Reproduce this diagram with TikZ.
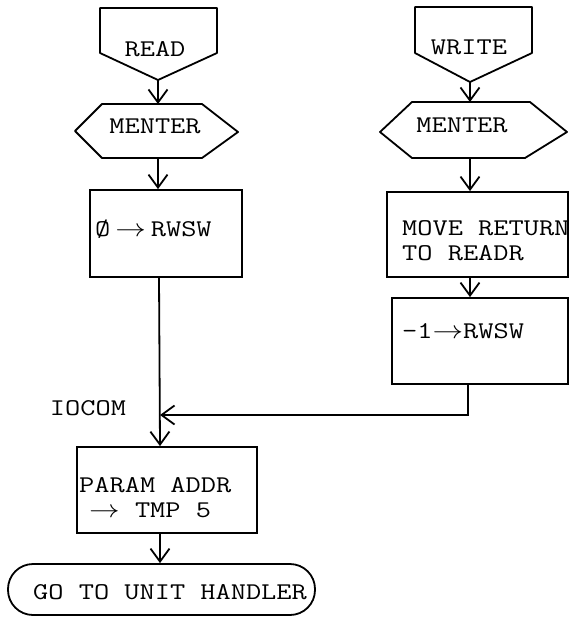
\documentclass[tikz,border=0pt]{standalone}
\usepackage{graphicx}
\usetikzlibrary{arrows.meta}
\newcommand\tw[1]{\scalebox{1.23}[1]{#1}}
\tikzset{
  shp/.style={draw, line width=1.8pt, line join=round},
  box/.style={draw, line width=1.8pt, rectangle, inner sep=0pt},
  txt/.style={inner sep=0pt, font=\ttfamily\fontsize{24}{25}\selectfont},
  flow/.style={line width=1.8pt, -{Straight Barb[length=13pt,width=19pt,line width=1.8pt]}},
}
\begin{document}
\begin{tikzpicture}[x=1pt,y=-1pt]
\useasboundingbox[fill=white] (0,0) rectangle (571,623);

% READ connector (pentagon)
\draw[shp] (100,8) -- (217,8) -- (217,53) -- (158,80) -- (100,53) -- cycle;
\coordinate (readtip) at (158,80);
\node[txt, anchor=base] (tread) at (155,57) {\tw{READ}};

% WRITE connector
\draw[shp] (415,7) -- (532,7) -- (532,53) -- (470,82) -- (415,53) -- cycle;
\coordinate (writetip) at (470,82);
\node[txt, anchor=base] (twrite) at (469,55) {\tw{WRITE}};

% MENTER left
\draw[shp] (75,131) -- (102,104) -- (202,104) -- (238,132) -- (202,158) -- (102,158) -- cycle;
\coordinate (m1top) at (158,104);
\coordinate (m1bot) at (158,158);
\node[txt, anchor=base] (tm1) at (155,133) {\tw{MENTER}};

% MENTER right
\draw[shp] (380,132) -- (412,102) -- (530,102) -- (567,132) -- (525,158) -- (412,158) -- cycle;
\coordinate (m2top) at (470,102);
\coordinate (m2bot) at (470,158);
\node[txt, anchor=base] (tm2) at (462,132) {\tw{MENTER}};

% boxes
\node[box, minimum width=152pt, minimum height=87pt] (b1) at (166,233.5) {};
\node[txt, anchor=base west] (tb1) at (95,236) {\tw{Ø\,$\rightarrow$\,RWSW}};

\node[box, minimum width=181pt, minimum height=85pt] (b2) at (477.5,234.5) {};
\node[txt, anchor=base west] (tb2a) at (402,235) {\tw{MOVE RETURN}};
\node[txt, anchor=base west] (tb2b) at (402,260) {\tw{TO READR}};

\node[box, minimum width=176pt, minimum height=86pt] (b3) at (480,341) {};
\node[txt, anchor=base west] (tb3) at (402,338) {\tw{-1$\rightarrow$RWSW}};

\node[box, minimum width=180pt, minimum height=86pt] (b4) at (167,490) {};
\node[txt, anchor=base west] (tb4a) at (79,492) {\tw{PARAM ADDR}};
\node[txt, anchor=base west] (tb4b) at (89,517) {\tw{$\rightarrow$ TMP 5}};

\node[box, rounded corners=25pt, minimum width=307pt, minimum height=51pt] (term) at (161.5,589.5) {};
\node[txt, anchor=base west] (tterm) at (33,599) {\tw{GO TO UNIT HANDLER}};

\node[txt, anchor=base] (iocom) at (88,415) {\tw{IOCOM}};

% connectors
\draw[flow] (readtip) -- (m1top);
\draw[flow] (m1bot) -- (b1.north -| m1bot);
\draw[flow] (writetip) -- (m2top);
\draw[flow] (m2bot) -- (b2.north -| m2bot);
\draw[flow] (b2.south -| m2bot) -- (b3.north -| m2bot);
\coordinate (join) at (160,415);
\coordinate (b3out) at (468,384);
\draw[flow] (b3out) -- (468,415) -- (join);
\draw[flow] (159,277) -- (b4.north -| join);
\draw[flow] (b4.south -| join) -- (term.north -| join);
\end{tikzpicture}
\end{document}
